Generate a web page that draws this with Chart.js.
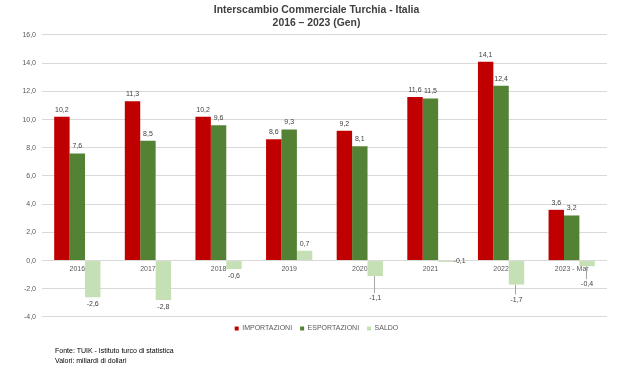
<!DOCTYPE html>
<html>
<head>
<meta charset="utf-8">
<script src="https://cdn.jsdelivr.net/npm/chart.js@4.4.1/dist/chart.umd.min.js"></script>
<style>
  html, body { margin: 0; padding: 0; background: #fff; }
  #wrap { position: relative; width: 619px; height: 375px; }
  #c { position: absolute; left: 0; top: 0; }
  #foot { position: absolute; left: 55px; top: 346px; font: 7px "Liberation Sans", Arial, sans-serif; line-height: 10px; color: #000; }
</style>
</head>
<body>
<div id="wrap">
  <canvas id="c" width="619" height="375"></canvas>
  <div id="foot">Fonte: TUIK - Istituto turco di statistica<br>Valori: miliardi di dollari</div>
</div>
<script>
const categories = ['2016', '2017', '2018', '2019', '2020', '2021', '2022', '2023 - Mar'];
const importazioni = [10.2, 11.3, 10.2, 8.6, 9.2, 11.6, 14.1, 3.6];
const esportazioni = [7.6, 8.5, 9.6, 9.3, 8.1, 11.5, 12.4, 3.2];
const saldo = [-2.6, -2.8, -0.6, 0.7, -1.1, -0.1, -1.7, -0.4];
const yMin = -4, yMax = 16, yStep = 2;
const titleLines = ['Interscambio Commerciale Turchia - Italia', '2016 \u2013 2023 (Gen)'];

const FONT = '"Liberation Sans", Arial, sans-serif';
const fmt = v => v.toFixed(1).replace('.', ',');

const labelPlugin = {
  id: 'barLabels',
  afterDatasetsDraw(chart, args, opts) {
    const ctx = chart.ctx;
    ctx.save();
    ctx.font = '7px ' + FONT;
    ctx.fillStyle = '#404040';
    ctx.textAlign = 'center';
    ctx.textBaseline = 'middle';
    chart.data.datasets.forEach((ds, di) => {
      const meta = chart.getDatasetMeta(di);
      meta.data.forEach((bar, i) => {
        const v = ds.data[i];
        const txt = fmt(v);
        const x = bar.x, y = bar.y;
        if (di === 2) {
          if (opts.right.includes(i)) {
            ctx.textAlign = 'left';
            ctx.fillText(txt, x + bar.width / 2, y - 1);
            ctx.textAlign = 'center';
            return;
          }
          if (v >= 0) { ctx.fillText(txt, x, y - 7); return; }
          const extra = opts.leader[i] || 0;
          if (extra) {
            ctx.strokeStyle = '#a6a6a6';
            ctx.lineWidth = 1;
            ctx.beginPath();
            ctx.moveTo(Math.round(x) - 0.5, y);
            ctx.lineTo(Math.round(x) - 0.5, y + extra + 2);
            ctx.stroke();
          }
          ctx.fillText(txt, x, y + 7 + extra);
        } else {
          ctx.fillText(txt, x, y - 7);
        }
      });
    });
    ctx.restore();
  }
};

new Chart(document.getElementById('c'), {
  type: 'bar',
  data: {
    labels: categories,
    datasets: [
      { label: 'IMPORTAZIONI', data: importazioni, backgroundColor: '#C00000', borderWidth: 0 },
      { label: 'ESPORTAZIONI', data: esportazioni, backgroundColor: '#548235', borderWidth: 0 },
      { label: 'SALDO', data: saldo, backgroundColor: '#C5E0B4', borderWidth: 0 }
    ]
  },
  options: {
    responsive: false,
    animation: false,
    events: [],
    layout: { padding: { left: 20, right: 6, top: 0, bottom: 33 } },
    datasets: { bar: { categoryPercentage: 0.655, barPercentage: 1.0 } },
    scales: {
      x: {
        position: { y: 0 },
        grid: { display: false, drawTicks: false },
        border: { display: false },
        ticks: { color: '#595959', font: { family: FONT, size: 7 }, padding: 4, maxRotation: 0, autoSkip: false }
      },
      y: {
        min: yMin, max: yMax,
        afterFit(s) { s.width = 22; },
        grid: { color: '#d9d9d9', drawTicks: false },
        border: { display: false },
        ticks: { stepSize: yStep, color: '#595959', font: { family: FONT, size: 7 }, padding: 6, callback: v => fmt(v) }
      },
      yPad: {
        position: 'right',
        afterFit(s) { s.width = 6; },
        grid: { display: false, drawTicks: false },
        border: { display: false },
        ticks: { display: false }
      }
    },
    plugins: {
      title: {
        display: true, text: titleLines, color: '#404040',
        font: { family: FONT, size: 10.4, weight: 'bold', lineHeight: 1.2 },
        padding: { top: 4, bottom: 6 }
      },
      legend: {
        position: 'bottom',
        labels: { boxWidth: 4, boxHeight: 4, padding: 8, color: '#595959', font: { family: FONT, size: 7 } }
      },
      tooltip: { enabled: false },
      barLabels: { right: [5], leader: { 4: 15, 6: 8, 7: 11 } }
    }
  },
  plugins: [labelPlugin]
});
</script>
</body>
</html>
